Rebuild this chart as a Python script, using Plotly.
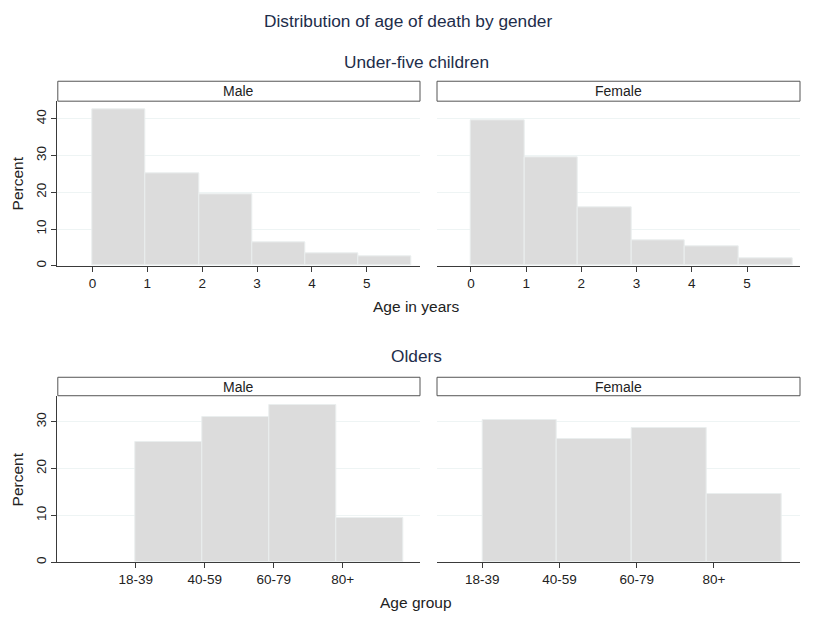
import plotly.graph_objects as go

# ---- data ----
under5_ages = [0, 1, 2, 3, 4, 5]                 # tick values, age in years
under5_male = [42.4, 25.2, 19.4, 6.3, 3.5, 2.7]     # percent
under5_female = [39.5, 29.6, 15.8, 6.9, 5.4, 2.0]   # percent

older_groups = ["18-39", "40-59", "60-79", "80+"]
older_codes = [1, 2, 3, 4]
older_male = [25.6, 31.0, 33.6, 9.5]
older_female = [30.4, 26.3, 28.7, 14.5]

under5_start, bin_width = 0.0, 0.97
older_start = 1.0

W, H = 830, 621
FONT = "Liberation Sans, Arial, sans-serif"
TITLE_C = "#1e2d4a"
BAR_C = "#dcdcdc"
BAR_LINE = "#eaeeee"
GRID_C = "#eef4f4"
AX_C = "#3a3a3a"

def px_x(p):
    return p / W

def px_y(p):
    return 1 - p / H

fig = go.Figure()

def add_hist(vals, start, xa, ya):
    n = len(vals)
    xs = [start + i * bin_width for i in range(n)]
    fig.add_trace(go.Bar(
        x=xs, y=vals, width=[bin_width] * n, offset=0,
        marker=dict(color=BAR_C, line=dict(color=BAR_LINE, width=1)),
        xaxis=xa, yaxis=ya, showlegend=False, hoverinfo="x+y"))

add_hist(under5_male, under5_start, "x", "y")
add_hist(under5_female, under5_start, "x2", "y2")
add_hist(older_male, older_start, "x3", "y3")
add_hist(older_female, older_start, "x4", "y4")

xl = [px_x(57.3), px_x(420)]
xr = [px_x(436.7), px_x(800)]
top_d = [px_y(266.7), px_y(101.7)]
bot_d = [px_y(564), px_y(397.3)]

tickfont = dict(family=FONT, size=13.5, color="#222")
common_x = dict(showline=True, linecolor=AX_C, linewidth=1, ticks="outside",
                ticklen=5, tickcolor=AX_C, showgrid=False, zeroline=False,
                tickfont=tickfont)
grid_y = dict(showgrid=True, gridcolor=GRID_C, gridwidth=1, zeroline=False)

fig.update_layout(
    width=W, height=H, margin=dict(l=0, r=0, t=0, b=0),
    paper_bgcolor="white", plot_bgcolor="white", bargap=0,
    font=dict(family=FONT, color="#222"),
    xaxis=dict(domain=xl, range=[-0.64, 5.97], tickvals=under5_ages, anchor="y", **common_x),
    xaxis2=dict(domain=xr, range=[-0.62, 5.96], tickvals=under5_ages, anchor="y2", **common_x),
    xaxis3=dict(domain=xl, range=[-0.136, 5.12], tickvals=older_codes, ticktext=older_groups, anchor="y3", **common_x),
    xaxis4=dict(domain=xr, range=[0.41, 5.115], tickvals=older_codes, ticktext=older_groups, anchor="y4", **common_x),
    yaxis=dict(domain=top_d, range=[0, 44.7], tickvals=[0, 10, 20, 30, 40], anchor="x",
               showline=True, linecolor=AX_C, linewidth=1, ticks="outside", ticklen=5,
               tickcolor=AX_C, tickangle=-90, tickfont=tickfont, **grid_y),
    yaxis2=dict(domain=top_d, range=[0, 44.7], tickvals=[0, 10, 20, 30, 40], anchor="x2",
                showline=False, showticklabels=False, ticks="", **grid_y),
    yaxis3=dict(domain=bot_d, range=[0, 35.5], tickvals=[0, 10, 20, 30], anchor="x3",
                showline=True, linecolor=AX_C, linewidth=1, ticks="outside", ticklen=5,
                tickcolor=AX_C, tickangle=-90, tickfont=tickfont, **grid_y),
    yaxis4=dict(domain=bot_d, range=[0, 35.5], tickvals=[0, 10, 20, 30], anchor="x4",
                showline=False, showticklabels=False, ticks="", **grid_y),
)

shapes = []
annotations = []

def strip(x0, x1, y0, y1, text):
    shapes.append(dict(type="rect", xref="paper", yref="paper",
                       x0=px_x(x0), x1=px_x(x1), y0=px_y(y1), y1=px_y(y0),
                       line=dict(color="#555", width=1), fillcolor="white", layer="above"))
    annotations.append(dict(text=text, xref="paper", yref="paper",
                            x=px_x((x0 + x1) / 2), y=px_y((y0 + y1) / 2),
                            showarrow=False, xanchor="center", yanchor="middle",
                            font=dict(family=FONT, size=14, color="#222")))

strip(57.8, 420, 81.5, 101.5, "Male")
strip(437, 800, 81.5, 101.5, "Female")
strip(57.8, 420, 378.5, 397, "Male")
strip(437, 800, 378.5, 397, "Female")

def text(t, x, y, size, color=TITLE_C, angle=0):
    annotations.append(dict(text=t, xref="paper", yref="paper", x=px_x(x), y=px_y(y),
                            showarrow=False, xanchor="center", yanchor="middle",
                            textangle=angle, font=dict(family=FONT, size=size, color=color)))

text("Distribution of age of death by gender", 408, 21, 17.3)
text("Under-five children", 417, 62, 17.3)
text("Olders", 416, 357, 17.3)
text("Age in years", 416, 307, 15.5, "#222")
text("Age group", 416, 604, 15.5, "#222")
text("Percent", 17, 184, 15.5, "#222", -90)
text("Percent", 17, 481, 15.5, "#222", -90)

fig.update_layout(shapes=shapes, annotations=annotations)
fig.write_html("out.html")
